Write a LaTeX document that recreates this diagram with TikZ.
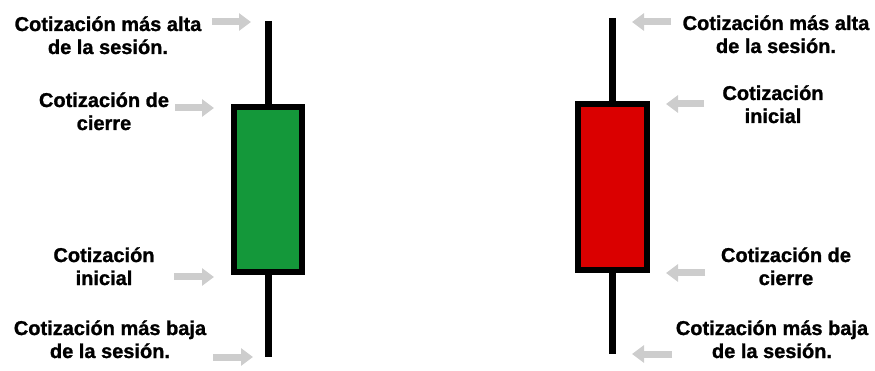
\documentclass[tikz,border=0pt]{standalone}
\usepackage{fontspec}
\setmainfont{Liberation Sans}[BoldFeatures={FakeBold=1.2}]
\usetikzlibrary{arrows.meta}
\definecolor{bodygreen}{RGB}{20,152,58}
\definecolor{bodyred}{RGB}{218,0,0}
\definecolor{arrowgray}{RGB}{205,205,205}
\tikzset{
  lbl/.style={align=center, anchor=base, inner sep=0pt, outer sep=0pt,
    font=\bfseries\fontsize{20}{23}\selectfont},
  candlebody/.style={draw=black, line width=6pt, inner sep=0pt, outer sep=0pt},
  wick/.style={line width=7pt, draw=black},
  pointer/.style={draw=arrowgray, line width=7pt, -{Triangle[length=12pt,width=17pt]}}
}
\begin{document}
\begin{tikzpicture}[x=1pt,y=-1pt]
\useasboundingbox (0,0) rectangle (875,371);
% left candle (green)
\node[candlebody, fill=bodygreen, minimum width=68pt, minimum height=165pt] (gbody) at (268,189.5) {};
\coordinate (gtop) at (268,21);
\coordinate (gbot) at (268,357);
\draw[wick] (gtop) -- (gbody.north);
\draw[wick] (gbody.south) -- (gbot);
% right candle (red)
\node[candlebody, fill=bodyred, minimum width=69pt, minimum height=166pt] (rbody) at (612.5,187) {};
\coordinate (rtop) at (612.5,18);
\coordinate (rbot) at (612.5,354);
\draw[wick] (rtop) -- (rbody.north);
\draw[wick] (rbody.south) -- (rbot);
% left labels (anchor = baseline of last line)
\node[lbl] (lhigh) at (108,54) {Cotización más alta\\de la sesión.};
\node[lbl] (lclose) at (104,130) {Cotización de\\cierre};
\node[lbl] (lopen) at (104,285) {Cotización\\inicial};
\node[lbl] (llow) at (110,358) {Cotización más baja\\de la sesión.};
% right labels
\node[lbl] (rhigh) at (776,53) {Cotización más alta\\de la sesión.};
\node[lbl] (ropen) at (773,123) {Cotización\\inicial};
\node[lbl] (rclose) at (786,285) {Cotización de\\cierre};
\node[lbl] (rlow) at (772,358) {Cotización más baja\\de la sesión.};
% arrows
\coordinate (la1) at (212,22);  \coordinate (lb1) at (251,22);
\coordinate (la2) at (175,108); \coordinate (lb2) at (214,108);
\coordinate (la3) at (174,277); \coordinate (lb3) at (214,277);
\coordinate (la4) at (213,357); \coordinate (lb4) at (253,357);
\coordinate (ra1) at (671,22);  \coordinate (rb1) at (632,22);
\coordinate (ra2) at (704,104); \coordinate (rb2) at (666,104);
\coordinate (ra3) at (705,273); \coordinate (rb3) at (666,273);
\coordinate (ra4) at (672,354); \coordinate (rb4) at (632,354);
\draw[pointer] (la1) -- (lb1);
\draw[pointer] (la2) -- (lb2);
\draw[pointer] (la3) -- (lb3);
\draw[pointer] (la4) -- (lb4);
\draw[pointer] (ra1) -- (rb1);
\draw[pointer] (ra2) -- (rb2);
\draw[pointer] (ra3) -- (rb3);
\draw[pointer] (ra4) -- (rb4);
\end{tikzpicture}
\end{document}
